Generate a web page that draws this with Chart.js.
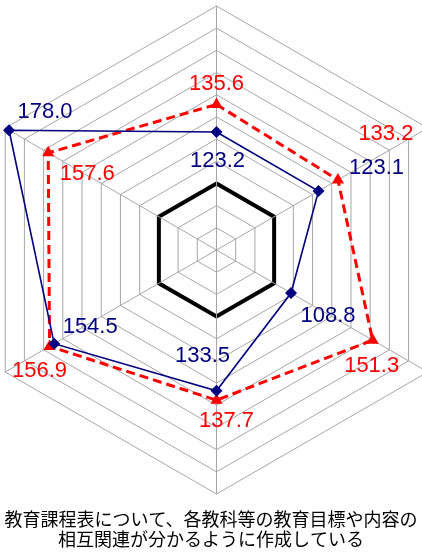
<!DOCTYPE html>
<html>
<head>
<meta charset="utf-8">
<script src="https://cdn.jsdelivr.net/npm/chart.js@4/dist/chart.umd.min.js"></script>
<style>
  html, body { margin: 0; padding: 0; background: #fff; }
  #wrap { width: 422px; height: 552px; position: relative; overflow: hidden; }
</style>
</head>
<body>
<div id="wrap"><canvas id="radarChart"></canvas></div>
<script>
// six axes, clockwise from the top
const axes = ['', '', '', '', '', ''];
const seriesA = [123.2, 123.1, 108.8, 133.5, 154.5, 178.0];
const seriesB = [135.6, 133.2, 151.3, 137.7, 156.9, 157.6];
const scaleMin = 70;
const scaleMax = 180;
const scaleStep = 10;
const titleLines = ['教育課程表について、各教科等の教育目標や内容の', '相互関連が分かるように作成している'];

// where each value label sits relative to its point (dx, dy)
const labelOffsets = [
    [[1, 29], [58, -23], [37, 23], [-14, -35], [36, -17], [36, -18]],
    [[0, -21], [48, -46], [-1, 26], [10, 21], [-10, 25], [39, 21]]
];

// put the web where the original has it
const placeRadar = {
    id: 'placeRadar',
    afterLayout(chart) {
        const r = chart.scales.r;
        r.drawingArea = 244;
        r.xCenter = 216.5;
        r.yCenter = 250;
    }
};

const valueLabels = {
    id: 'valueLabels',
    afterDatasetsDraw(chart) {
        const ctx = chart.ctx;
        ctx.save();
        ctx.font = '22px "Liberation Sans", Arial, sans-serif';
        ctx.textAlign = 'center';
        ctx.textBaseline = 'middle';
        chart.data.datasets.forEach((ds, d) => {
            const meta = chart.getDatasetMeta(d);
            ctx.fillStyle = ds.labelColor;
            meta.data.forEach((pt, i) => {
                const off = labelOffsets[d][i];
                ctx.fillText(ds.data[i].toFixed(1), pt.x + off[0], pt.y + off[1]);
            });
        });
        ctx.restore();
    }
};

const ctx = document.getElementById('radarChart').getContext('2d');
new Chart(ctx, {
    type: 'radar',
    data: {
        labels: axes,
        datasets: [{
            data: seriesA,
            borderColor: '#000080',
            backgroundColor: '#000080',
            borderWidth: 1.6,
            fill: false,
            pointStyle: 'rectRot',
            pointRadius: 6,
            pointBackgroundColor: '#000080',
            pointBorderColor: '#000080',
            pointBorderWidth: 0,
            labelColor: '#000080',
            clip: false
        }, {
            data: seriesB,
            borderColor: '#ff0000',
            backgroundColor: '#ff0000',
            borderWidth: 3,
            borderDash: [9, 5],
            fill: false,
            pointStyle: 'triangle',
            pointRadius: 7,
            pointBackgroundColor: '#ff0000',
            pointBorderColor: '#ff0000',
            pointBorderWidth: 0,
            labelColor: '#ff0000',
            clip: false
        }]
    },
    options: {
        responsive: true,
        maintainAspectRatio: false,
        animation: false,
        layout: { padding: 0 },
        elements: { line: { tension: 0 } },
        scales: {
            r: {
                min: scaleMin,
                max: scaleMax,
                ticks: { display: false, stepSize: scaleStep },
                pointLabels: { display: false },
                grid: {
                    circular: false,
                    color: c => (c.tick && c.tick.value === 100) ? '#000000' : '#a6a6a6',
                    lineWidth: c => (c.tick && c.tick.value === 100) ? 4 : 1
                },
                angleLines: { display: true, color: '#a6a6a6', lineWidth: 1 }
            }
        },
        plugins: {
            legend: { display: false },
            tooltip: { enabled: false },
            title: {
                display: true,
                position: 'bottom',
                text: titleLines,
                color: '#000000',
                font: { family: '"Noto Sans CJK JP", sans-serif', size: 18, weight: 'normal', lineHeight: 1.15 },
                padding: { top: 0, bottom: 2 }
            }
        }
    },
    plugins: [placeRadar, valueLabels]
});
</script>
</body>
</html>
